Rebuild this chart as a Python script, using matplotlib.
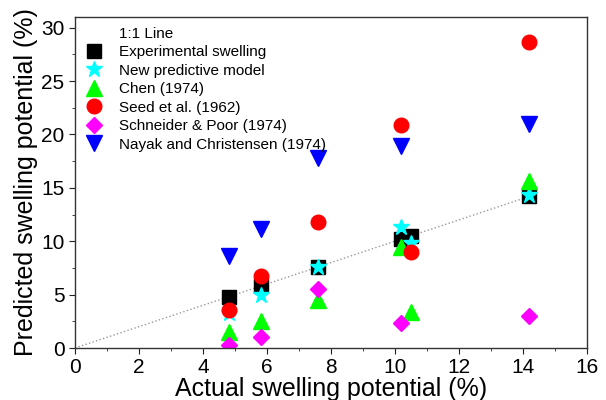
import matplotlib
matplotlib.use("Agg")
import matplotlib.pyplot as plt
from matplotlib.ticker import MultipleLocator

plt.rcParams['font.family'] = ['Liberation Sans', 'DejaVu Sans']

actual = [4.8, 5.8, 7.6, 10.2, 10.5, 14.2]
experimental = [4.8, 5.8, 7.6, 10.2, 10.5, 14.2]
new_model = [3.3, 5.0, 7.6, 11.3, 9.8, 14.3]
chen = [1.5, 2.5, 4.5, 9.5, 3.4, 15.6]
seed = [3.6, 6.7, 11.8, 20.9, 9.0, 28.7]
schneider_x = [4.8, 5.8, 7.6, 10.2, 14.2]
schneider = [0.3, 1.0, 5.5, 2.3, 3.0]
nayak_x = [4.8, 5.8, 7.6, 10.2, 14.2]
nayak = [8.6, 11.1, 17.8, 18.9, 21.0]
line_x = [0, 14.2]
line_y = [0, 14.2]

fig = plt.figure(figsize=(6.06, 4.0), dpi=100)
ax = fig.add_axes([75/606, 52/400, 512/606, 331/400])

ax.plot(line_x, line_y, linestyle=':', color='#999999', linewidth=1.0, label='1:1 Line')
ax.plot(actual, experimental, 's', color='black', markersize=9.5, linestyle='none', label='Experimental swelling')
ax.plot(actual, new_model, '*', color='cyan', markersize=12, linestyle='none', label='New predictive model')
ax.plot(actual, chen, '^', color='#00ff00', markersize=11, linestyle='none', label='Chen (1974)')
ax.plot(actual, seed, 'o', color='red', markersize=10.5, linestyle='none', label='Seed et al. (1962)')
ax.plot(schneider_x, schneider, 'D', color='magenta', markersize=8.5, linestyle='none', label='Schneider & Poor (1974)')
ax.plot(nayak_x, nayak, 'v', color='blue', markersize=11, linestyle='none', label='Nayak and Christensen (1974)')

ax.set_xlim(0, 16)
ax.set_ylim(0, 31)
ax.xaxis.set_major_locator(MultipleLocator(2))
ax.xaxis.set_minor_locator(MultipleLocator(1))
ax.yaxis.set_major_locator(MultipleLocator(5))
ax.yaxis.set_minor_locator(MultipleLocator(2.5))
ax.tick_params(axis='both', which='major', direction='out', length=4, labelsize=15, colors='#222222')
ax.tick_params(axis='both', which='minor', direction='out', length=2.5, colors='#222222')
ax.tick_params(labelcolor='black')
for s in ax.spines.values():
    s.set_color('#333333')
    s.set_linewidth(1.0)

ax.set_xlabel('Actual swelling potential (%)', fontsize=18, labelpad=0)
ax.set_ylabel('Predicted swelling potential (%)', fontsize=18, labelpad=2)

leg = ax.legend(loc='upper left', frameon=False, fontsize=11, handlelength=1.2,
                handletextpad=1.0, labelspacing=0.29, borderaxespad=0.25,
                bbox_to_anchor=(0.0, 1.0), numpoints=1)
leg.get_lines()[0].set_visible(False)

fig.savefig('out.png', dpi=100)
